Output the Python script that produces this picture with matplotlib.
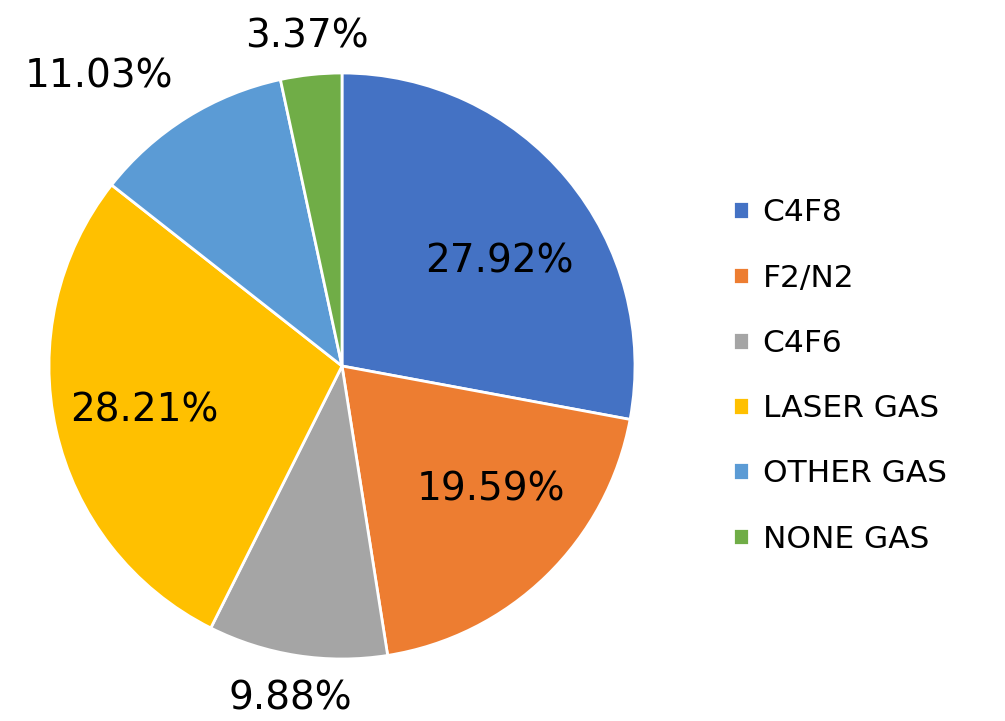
import numpy as np
import matplotlib
matplotlib.use('Agg')
import matplotlib.pyplot as plt

# %% data
gases = ['C4F8', 'F2/N2', 'C4F6', 'LASER GAS', 'OTHER GAS', 'NONE GAS']
shares = [27.92, 19.59, 9.88, 28.21, 11.03, 3.37]  # %
colors = ['#4472C4', '#ED7D31', '#A5A5A5', '#FFC000', '#5B9BD5', '#70AD47']

# label placement (fraction of radius, angle nudge in degrees)
label_dist = [0.645, 0.66, 1.15, 0.69, 1.29, 1.13]
label_nudge = [-6, 6, 0, 0, 8, 0]

# %% plot
fig = plt.figure(figsize=(10.05, 7.21), dpi=100)
ax = fig.add_axes([49 / 1005, 62 / 721, 586 / 1005, 586 / 721])

wedges, _ = ax.pie(shares, colors=colors, startangle=90, counterclock=False,
                   radius=1, wedgeprops=dict(edgecolor='white', linewidth=2))
ax.set_xlim(-1, 1)
ax.set_ylim(-1, 1)
ax.set_aspect('equal')
ax.axis('off')

for w, val, d, nudge in zip(wedges, shares, label_dist, label_nudge):
    ang = np.deg2rad((w.theta1 + w.theta2) / 2 + nudge)
    ax.text(d * np.cos(ang), d * np.sin(ang), f'{val:.2f}%',
            ha='center', va='center', fontsize=28, color='black', clip_on=False)

fig.legend(wedges, gases, loc='center left',
           bbox_to_anchor=(733 / 1005, 1 - 376 / 721),
           frameon=False, fontsize=22.5, borderpad=0, borderaxespad=0,
           handlelength=0.5, handleheight=0.5, handletextpad=0.45,
           labelspacing=1.16)

fig.savefig('out.png', dpi=100)
